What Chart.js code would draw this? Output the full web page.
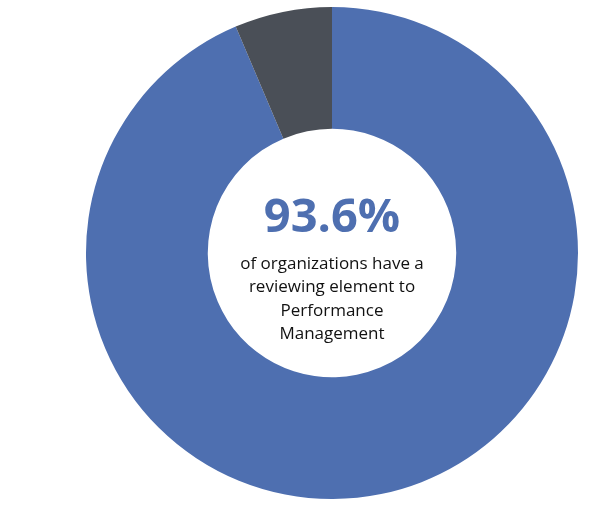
<!DOCTYPE html>
<html><head><meta charset="utf-8">
<script src="https://cdn.jsdelivr.net/npm/chart.js@4/dist/chart.umd.min.js"></script>
<style>html,body{margin:0;padding:0;background:#fff}#w{width:602px;height:508px;position:relative}</style>
</head><body><div id="w"><canvas id="c"></canvas></div>
<script>
const categories = ["Have a reviewing element", "Do not"];
const values = [93.6, 6.4];
const bigLabel = "93.6%";
const captionLines = ["of organizations have a", "reviewing element to", "Performance", "Management"];
const colors = ["#4E6FB0", "#4A4F57"];

const centerText = {
  id: 'centerText',
  afterDraw(chart) {
    const meta = chart.getDatasetMeta(0).data[0];
    const x = meta.x, y = meta.y, ctx = chart.ctx;
    ctx.save();
    ctx.textAlign = 'center'; ctx.textBaseline = 'middle';
    ctx.fillStyle = '#4E6FB0';
    ctx.font = 'bold 47px "Open Sans", Lato, sans-serif';
    ctx.fillText(bigLabel, x, y - 34);
    ctx.fillStyle = '#111';
    ctx.font = '17px "Open Sans", Lato, sans-serif';
    captionLines.forEach((l, i) => ctx.fillText(l, x, y + 11 + i * 23.5));
    ctx.restore();
  }
};

new Chart(document.getElementById('c'), {
  type: 'doughnut',
  data: { labels: categories, datasets: [{ data: values, backgroundColor: colors, borderWidth: 0 }] },
  options: {
    responsive: true, maintainAspectRatio: false, animation: false,
    cutout: '50.5%',
    layout: { padding: { left: 86, right: 24, top: 7, bottom: 9 } },
    plugins: { legend: { display: false }, tooltip: { enabled: false } }
  },
  plugins: [centerText]
});
</script></body></html>
